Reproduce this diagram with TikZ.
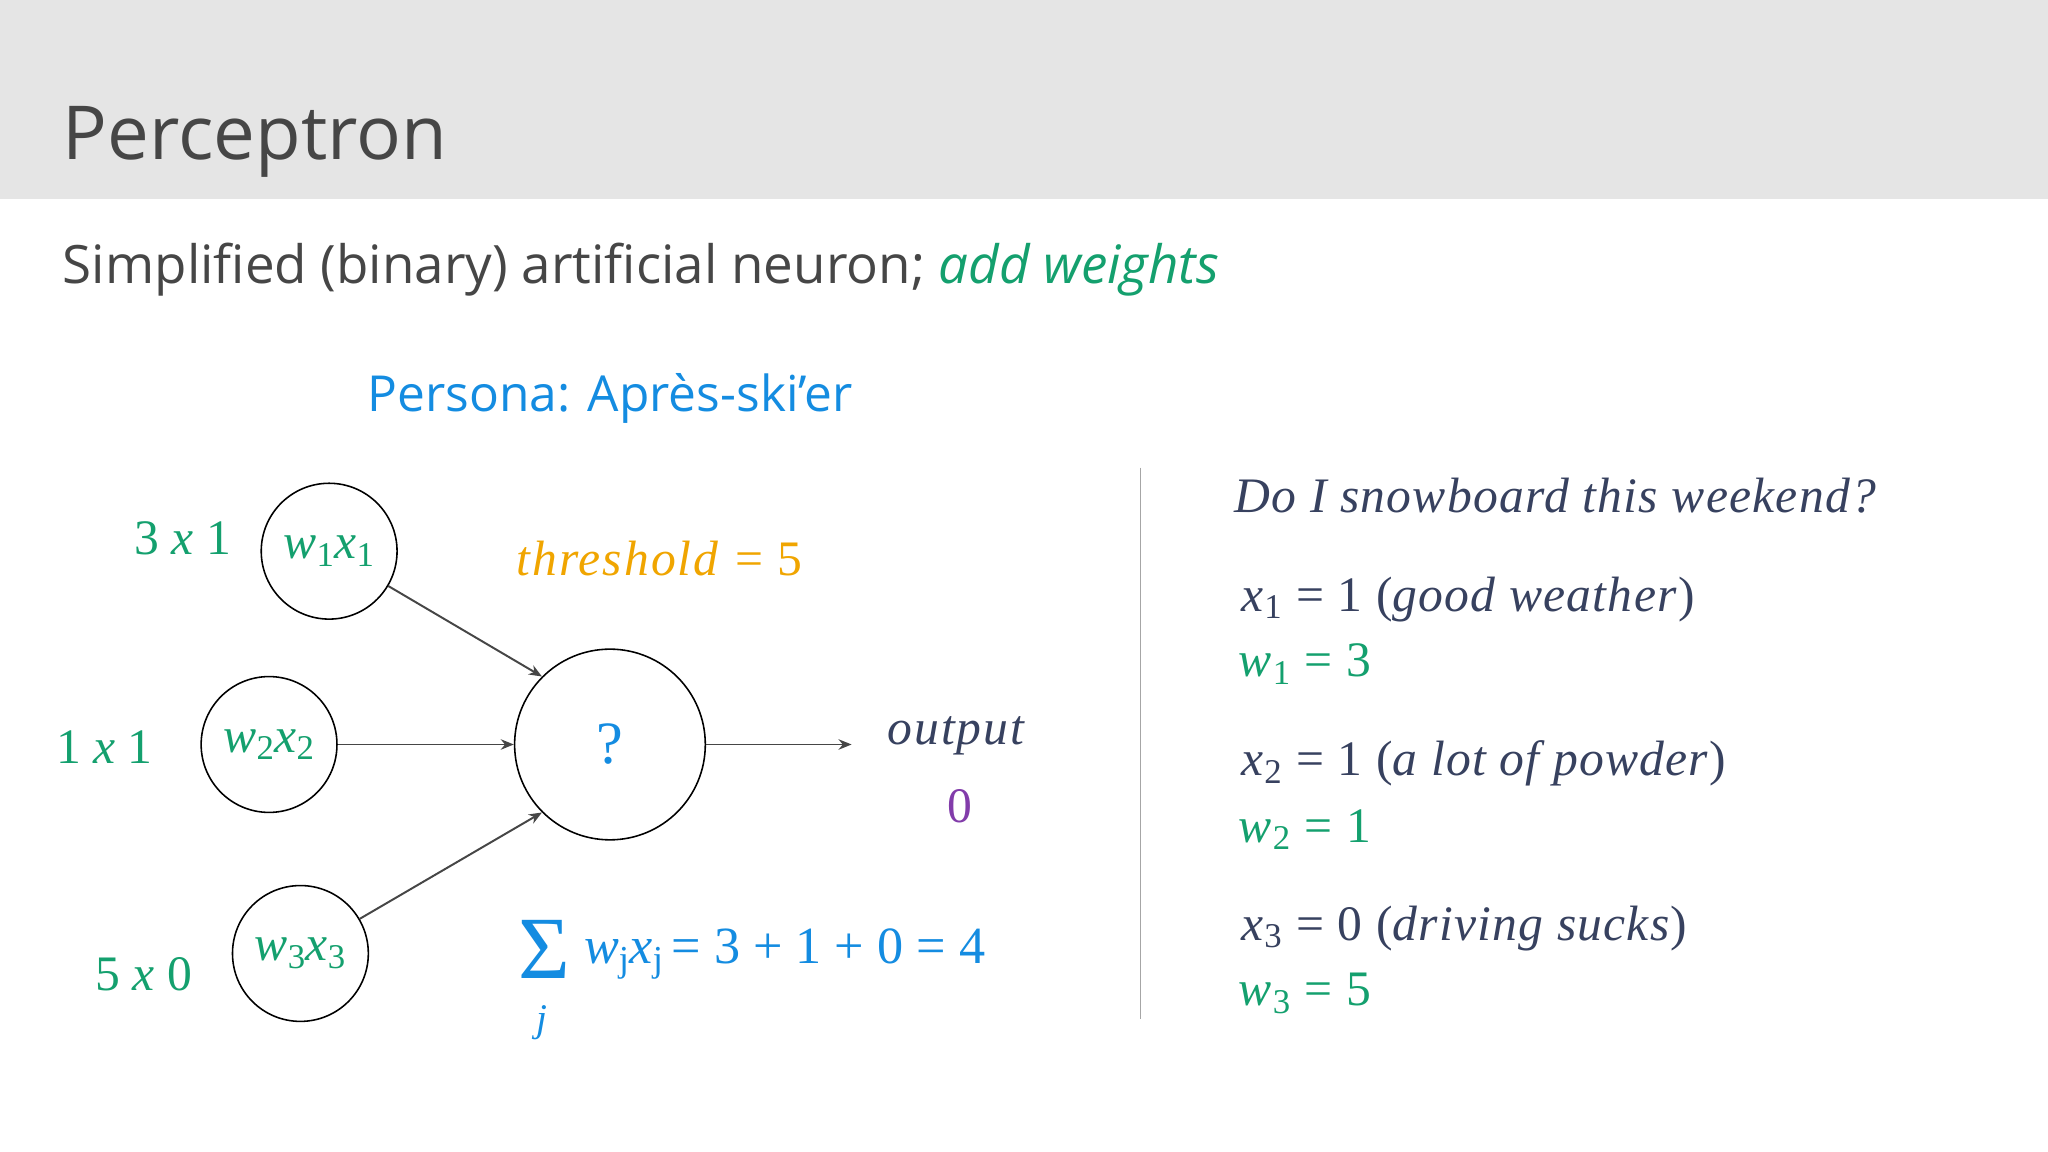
\documentclass[tikz,border=0pt]{standalone}
\usepackage{fix-cm}
\usepackage{fontspec}
\setmainfont{Liberation Serif}
\newfontfamily\sans{Open Sans}
\usetikzlibrary{arrows.meta}
\newcommand\vv[2]{\textit{#1}\textsubscript{#2}}
\definecolor{tgreen}{RGB}{20,160,110}
\definecolor{tblue}{RGB}{20,140,225}
\definecolor{torange}{RGB}{240,165,0}
\definecolor{tpurple}{RGB}{130,60,170}
\definecolor{tslate}{RGB}{55,65,95}
\definecolor{tgray}{RGB}{70,70,70}
\tikzset{neuron/.style={draw,circle,line width=1.2pt,inner sep=0pt},
 conn/.style={draw=tgray,line width=1.5pt,-{Stealth[length=10pt,width=8pt]}},
 big/.style={font=\fontsize{38}{44}\selectfont}}
\begin{document}
\begin{tikzpicture}[x=1pt,y=-1pt]
\useasboundingbox (0,0) rectangle (1568,882);
\fill[white] (0,0) rectangle (1568,882);
\fill[black!10] (0,0) rectangle (1568,152);
\node[anchor=base west,text=tgray,font=\sans\fontsize{57}{62}\selectfont,inner sep=0] (title) at (48,122) {Perceptron};
\node[anchor=base west,text=tgray,font=\sans\fontsize{40.5}{46}\selectfont,inner sep=0] (sub) at (48,217) {Simplified (binary) artificial neuron; \textcolor{tgreen}{\itshape add weights}};
\node[anchor=base,text=tblue,font=\sans\fontsize{38}{44}\selectfont,inner sep=0] (persona) at (467,315) {Persona: Après-ski’er};
\node[neuron,minimum size=104pt] (c1) at (252,422) {};
\node[neuron,minimum size=104pt] (c2) at (206,570) {};
\node[neuron,minimum size=104pt] (c3) at (230,730) {};
\node[neuron,minimum size=146pt] (n) at (467,570) {};
\node[big,text=tblue,font=\fontsize{46}{50}\selectfont] (q) at (n) {?};
\node[big,text=tgreen] (t1) at (c1) {\vv{w}{1}\vv{x}{1}};
\node[big,text=tgreen] (t2) at (c2) {\vv{w}{2}\vv{x}{2}};
\node[big,text=tgreen] (t3) at (c3) {\vv{w}{3}\vv{x}{3}};
\coordinate (out) at (652,570);
\draw[conn] (c1) -- (n.135);
\draw[conn] (c2) -- (n);
\draw[conn] (c3) -- (n.225);
\draw[conn] (n) -- (out);
\node[big,text=tgreen] (l1) at (140,412) {3 \textit{x} 1};
\node[big,text=tgreen] (l2) at (80,572) {1 \textit{x} 1};
\node[big,text=tgreen] (l3) at (110,746) {5 \textit{x} 0};
\node[big,text=torange,font=\fontsize{38}{44}\selectfont\addfontfeature{LetterSpace=4}] (th) at (505,428) {\textit{threshold} = 5};
\node[big,text=tslate,font=\fontsize{38}{44}\selectfont\addfontfeature{LetterSpace=4}] (op) at (733,563) {\textit{output}};
\node[big,text=tpurple] (zero) at (735,617) {0};
\node[text=tblue,font=\fontsize{68}{70}\selectfont,inner sep=0] (sig) at (417,727) {Σ};
\node[text=tblue,font=\fontsize{30}{34}\selectfont\itshape,inner sep=0] (jj) at (415,783) {j};
\node[big,text=tblue,anchor=base west,inner sep=0,font=\fontsize{40}{44}\selectfont] (sum) at (447,738) {\vv{w}{j}\vv{x}{j}\kern-4pt{} = 3 + 1 + 0 = 4};
\draw[black!35,line width=1pt] (873,358) -- (873,780);
\begin{scope}[every node/.style={anchor=base west,inner sep=0,font=\fontsize{38}{44}\selectfont\addfontfeature{LetterSpace=2.5}}]
\node[text=tslate] (q0) at (945,392) {\textit{Do I snowboard this weekend?}};
\node[text=tslate] (x1) at (950,468) {\vv{x}{1} = 1 (\textit{good weather})};
\node[text=tgreen] (w1) at (948,518) {\vv{w}{1} = 3};
\node[text=tslate] (x2) at (950,594) {\vv{x}{2} = 1 (\textit{a lot of powder})};
\node[text=tgreen] (w2) at (948,645) {\vv{w}{2} = 1};
\node[text=tslate] (x3) at (950,720) {\vv{x}{3} = 0 (\textit{driving sucks})};
\node[text=tgreen] (w3) at (948,770) {\vv{w}{3} = 5};
\end{scope}
\end{tikzpicture}
\end{document}
